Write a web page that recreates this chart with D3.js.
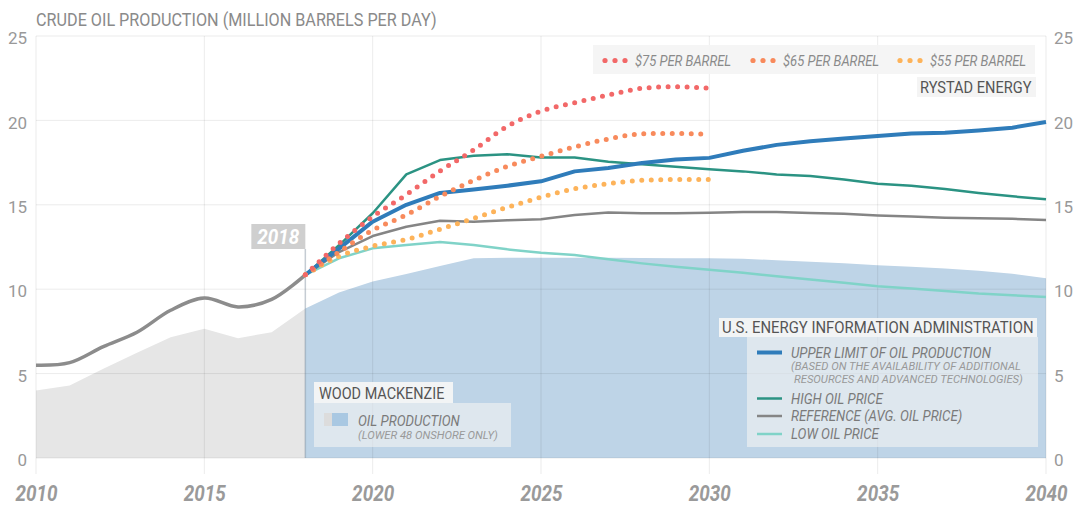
<!DOCTYPE html>
<html>
<head>
<meta charset="utf-8">
<script src="https://cdn.jsdelivr.net/npm/d3@7"></script>
<style>
  body { margin: 0; background: #fff; }
  svg text { font-family: Roboto, "Liberation Sans", sans-serif; }
</style>
</head>
<body>
<svg id="canvas"></svg>
<script>
// data (million barrels per day)
let histYears = [2010, 2011, 2012, 2013, 2014, 2015, 2016, 2017, 2018]
let histProduction = [5.5, 5.65, 6.6, 7.45, 8.75, 9.48, 8.95, 9.4, 10.85]
let histOnshore = [4.0, 4.3, 5.28, 6.23, 7.15, 7.65, 7.1, 7.45, 8.86]

let projYears = d3.range(2018, 2041)
let woodMackenzie = [8.86, 9.8, 10.45, 10.9, 11.37, 11.83, 11.86, 11.87, 11.87, 11.86, 11.85, 11.84, 11.83, 11.8, 11.72, 11.63, 11.53, 11.42, 11.33, 11.22, 11.1, 10.92, 10.65]
let eiaUpper = [10.85, 12.4, 14.0, 15.0, 15.7, 15.9, 16.13, 16.39, 16.98, 17.18, 17.48, 17.68, 17.78, 18.2, 18.55, 18.77, 18.93, 19.07, 19.23, 19.27, 19.4, 19.57, 19.9]
let eiaHigh = [10.85, 12.6, 14.5, 16.8, 17.65, 17.9, 18.0, 17.8, 17.8, 17.55, 17.4, 17.25, 17.1, 16.98, 16.8, 16.7, 16.5, 16.25, 16.13, 15.93, 15.7, 15.5, 15.33]
let eiaReference = [10.85, 12.2, 13.15, 13.7, 14.05, 14.0, 14.08, 14.15, 14.4, 14.55, 14.5, 14.5, 14.53, 14.58, 14.58, 14.52, 14.47, 14.37, 14.3, 14.23, 14.2, 14.17, 14.1]
let eiaLow = [10.85, 11.83, 12.42, 12.62, 12.8, 12.62, 12.36, 12.16, 12.02, 11.77, 11.53, 11.33, 11.15, 10.97, 10.77, 10.57, 10.38, 10.18, 10.04, 9.9, 9.74, 9.64, 9.54]

let rystadYears = d3.range(2018, 2031)
let rystad75 = [10.85, 12.7, 14.3, 15.6, 17.0, 18.25, 19.65, 20.55, 21.05, 21.5, 21.9, 22.0, 21.9]
let rystad65 = [10.85, 12.2, 13.5, 14.4, 15.5, 16.45, 17.28, 17.87, 18.43, 18.9, 19.2, 19.23, 19.17]
let rystad55 = [10.85, 11.95, 12.55, 12.95, 13.55, 14.2, 14.85, 15.45, 15.95, 16.25, 16.45, 16.5, 16.5]

let xTicks = [2010, 2015, 2020, 2025, 2030, 2035, 2040]
let yTicks = [0, 5, 10, 15, 20, 25]
let markerYear = 2018

let width = 1073
let height = 508
let margin = {top: 36, right: 27, bottom: 50, left: 36}

let canvas = d3.select('#canvas').attr('width', width).attr('height', height)

let x = d3.scaleLinear().domain([2010, 2040]).range([margin.left, width - margin.right])
let y = d3.scaleLinear().domain([0, 25]).range([height - margin.bottom, margin.top])

let zip = (years, vals) => years.map((yr, i) => [yr, vals[i]])

// roboto squeezed a bit to look like the condensed face of the original
let label = (px, py, txt, size, sx, fill, italic) => {
  return canvas.append('text')
    .attr('transform', `translate(${px},${py}) scale(${sx},1)`)
    .attr('font-size', size).attr('fill', fill)
    .attr('font-style', italic ? 'italic' : 'normal')
    .text(txt)
}

// areas
let area = d3.area().x(d => x(d[0])).y0(y(0)).y1(d => y(d[1]))
canvas.append('path').datum(zip(histYears, histOnshore)).attr('d', area).attr('fill', '#e6e6e6')
canvas.append('path').datum(zip(projYears, woodMackenzie)).attr('d', area).attr('fill', '#bed4e7')

// grid
canvas.append('g').selectAll('line').data(yTicks).enter().append('line')
  .attr('x1', x(2010)).attr('x2', x(2040))
  .attr('y1', d => y(d)).attr('y2', d => y(d))
  .attr('stroke', 'rgba(0,0,0,0.08)')
canvas.append('g').selectAll('line').data(xTicks).enter().append('line')
  .attr('x1', d => x(d)).attr('x2', d => x(d))
  .attr('y1', y(25)).attr('y2', y(0) + 16)
  .attr('stroke', 'rgba(0,0,0,0.08)')

// axes labels
let leftAxis = canvas.append('g').attr('transform', `translate(${margin.left},0)`)
  .call(d3.axisLeft(y).tickValues(yTicks).tickSize(0).tickPadding(9))
let rightAxis = canvas.append('g').attr('transform', `translate(${width - margin.right},0)`)
  .call(d3.axisRight(y).tickValues(yTicks).tickSize(0).tickPadding(8))
let bottomAxis = canvas.append('g').attr('transform', `translate(0,${y(0)})`)
  .call(d3.axisBottom(x).tickValues(xTicks).tickFormat(d3.format('d')).tickSize(0).tickPadding(27))
canvas.selectAll('.domain').remove()
leftAxis.selectAll('text').attr('font-size', 17).attr('fill', '#999').attr('dy', '0.45em')
rightAxis.selectAll('text').attr('font-size', 17).attr('fill', '#999').attr('dy', '0.45em')
bottomAxis.selectAll('text').attr('font-size', 22).attr('font-weight', 'bold')
  .attr('font-style', 'italic').attr('fill', '#9a9a9a').attr('transform', 'scale(0.86,1)')

// title
label(margin.left, 26, 'CRUDE OIL PRODUCTION (MILLION BARRELS PER DAY)', 17.6, 0.92, '#8a8a8a', false)

// 2018 marker
canvas.append('line')
  .attr('x1', x(markerYear)).attr('x2', x(markerYear))
  .attr('y1', 249).attr('y2', y(0))
  .attr('stroke', 'rgba(90,110,130,0.35)').attr('stroke-width', 1.5)
canvas.append('rect').attr('x', x(markerYear) - 54).attr('y', 224).attr('width', 54).attr('height', 25).attr('fill', '#cfcfcf')
label(x(markerYear) - 27, 244, markerYear, 21, 0.9, '#fff', true)
  .attr('text-anchor', 'middle').attr('font-weight', 'bold')

// lines
let straight = d3.line().x(d => x(d[0])).y(d => y(d[1]))
let smooth = d3.line().x(d => x(d[0])).y(d => y(d[1])).curve(d3.curveMonotoneX)
let rounded = d3.line().x(d => x(d[0])).y(d => y(d[1])).curve(d3.curveCatmullRom)
let solid = [
  {vals: eiaLow, color: '#80d3c8', w: 2.5},
  {vals: eiaReference, color: '#858585', w: 2.5},
  {vals: eiaHigh, color: '#2b9383', w: 2.5},
  {vals: eiaUpper, color: '#2f7cba', w: 4}
]
solid.forEach(s => {
  canvas.append('path').datum(zip(projYears, s.vals)).attr('d', straight)
    .attr('fill', 'none').attr('stroke', s.color).attr('stroke-width', s.w)
    .attr('stroke-linejoin', 'round')
})
canvas.append('path').datum(zip(histYears, histProduction)).attr('d', rounded)
  .attr('fill', 'none').attr('stroke', '#8c8c8c').attr('stroke-width', 3.5)

let dotted = [
  {vals: rystad55, color: '#fdb35a', label: '$55 PER BARREL'},
  {vals: rystad65, color: '#f88a5c', label: '$65 PER BARREL'},
  {vals: rystad75, color: '#f26868', label: '$75 PER BARREL'}
]
dotted.forEach(s => {
  canvas.append('path').datum(zip(rystadYears, s.vals)).attr('d', smooth)
    .attr('fill', 'none').attr('stroke', s.color).attr('stroke-width', 5)
    .attr('stroke-linecap', 'round').attr('stroke-dasharray', '0 9.5')
})

// Rystad legend
canvas.append('rect').attr('x', 593).attr('y', 45).attr('width', 442).attr('height', 29).attr('fill', '#f4f4f4').attr('opacity', 0.92)
let rystadLegend = [dotted[2], dotted[1], dotted[0]]
let legendX = [605, 753, 900]
rystadLegend.forEach((s, i) => {
  for (let k = 0; k < 3; k++) {
    canvas.append('circle').attr('cx', legendX[i] + k * 10).attr('cy', 60.5).attr('r', 2.6).attr('fill', s.color)
  }
  label(legendX[i] + 30, 65.5, s.label, 14, 0.93, '#8a8a8a', true)
})
canvas.append('rect').attr('x', 917).attr('y', 77).attr('width', 119).attr('height', 20).attr('fill', '#f4f4f4')
label(920, 93, 'RYSTAD ENERGY', 16.2, 0.9, '#555', false)

// EIA legend
canvas.append('rect').attr('x', 719).attr('y', 318).attr('width', 318).attr('height', 19).attr('fill', 'rgba(246,246,246,0.92)')
label(722, 333, 'U.S. ENERGY INFORMATION ADMINISTRATION', 16, 0.93, '#555', false)
canvas.append('rect').attr('x', 747).attr('y', 337).attr('width', 291).attr('height', 110).attr('fill', 'rgba(242,242,242,0.62)')
let eiaLegend = [
  {color: '#2f7cba', w: 4, cy: 352.5, label: 'UPPER LIMIT OF OIL PRODUCTION'},
  {color: '#2b9383', w: 2.5, cy: 398.5, label: 'HIGH OIL PRICE'},
  {color: '#858585', w: 2.5, cy: 416, label: 'REFERENCE (AVG. OIL PRICE)'},
  {color: '#80d3c8', w: 2.5, cy: 434, label: 'LOW OIL PRICE'}
]
eiaLegend.forEach(s => {
  canvas.append('line').attr('x1', 757).attr('x2', 782).attr('y1', s.cy).attr('y2', s.cy)
    .attr('stroke', s.color).attr('stroke-width', s.w)
  label(791, s.cy + 5, s.label, 14, 0.95, '#7a7a7a', true)
})
label(791, 370, '(BASED ON THE AVAILABILITY OF ADDITIONAL', 11.7, 0.96, '#999', true)
label(794, 382.5, 'RESOURCES AND ADVANCED TECHNOLOGIES)', 11.7, 0.96, '#999', true)

// Wood Mackenzie legend
canvas.append('rect').attr('x', 314).attr('y', 382).attr('width', 139).attr('height', 21).attr('fill', 'rgba(246,246,246,0.92)')
label(319, 398.5, 'WOOD MACKENZIE', 16.2, 0.89, '#555', false)
canvas.append('rect').attr('x', 314).attr('y', 403).attr('width', 197).attr('height', 44).attr('fill', 'rgba(242,242,242,0.62)')
canvas.append('rect').attr('x', 324).attr('y', 413).attr('width', 8).attr('height', 13).attr('fill', '#dcdcdc')
canvas.append('rect').attr('x', 332).attr('y', 413).attr('width', 16).attr('height', 13).attr('fill', '#a9c8e2')
label(358, 425.5, 'OIL PRODUCTION', 14, 0.95, '#7a7a7a', true)
label(358, 438.5, '(LOWER 48 ONSHORE ONLY)', 11.7, 0.96, '#999', true)
</script>
</body>
</html>
